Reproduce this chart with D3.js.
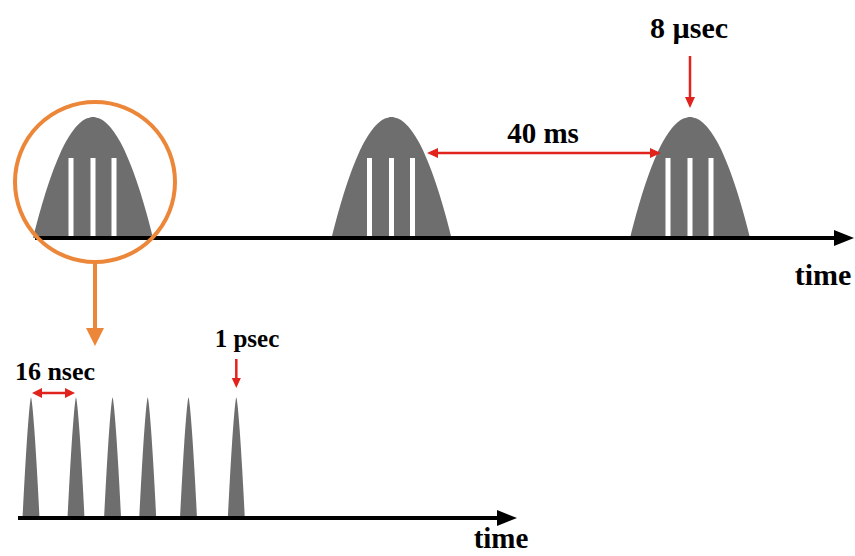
<!DOCTYPE html>
<html><head><meta charset="utf-8">
<script src="https://cdn.jsdelivr.net/npm/d3@7"></script>
<style>body{margin:0;background:#fff}svg{display:block}</style>
</head><body>
<script>
// ---- data ----
const burstTimesMs = [0, 40, 80];                  // burst centres (ms)
const burstSubLines = [-22, 0, 21];                 // white sub-pulse offsets inside a burst
const subPulseTimesNs = [0, 16, 29, 41.5, 56, 73];  // pulses inside one burst (ns)
const labels = {period: "40 ms", burst: "8 µsec", spacing: "16 nsec", width: "1 psec", axis: "time"};

const W = 855, H = 556;
const GRAY = "#6e6e6e", RED = "#e0231c", ORANGE = "#ec873a";
const svg = d3.select("body").append("svg").attr("width", W).attr("height", H);

// arrow helper: line from (x1,y1) to (x2,y2) with filled triangular head(s)
function arrow(x1, y1, x2, y2, color, sw, hl, hw, both) {
  const a = Math.atan2(y2 - y1, x2 - x1);
  const ux = Math.cos(a), uy = Math.sin(a);
  const sx = both ? x1 + ux*hl*0.8 : x1, sy = both ? y1 + uy*hl*0.8 : y1;
  svg.append("line").attr("x1", sx).attr("y1", sy)
    .attr("x2", x2 - ux*hl*0.8).attr("y2", y2 - uy*hl*0.8)
    .attr("stroke", color).attr("stroke-width", sw);
  const head = (tx, ty, dx, dy) => {
    const bx = tx - dx*hl, by = ty - dy*hl;
    svg.append("path").attr("d",
      `M${tx},${ty}L${bx - dy*hw/2},${by + dx*hw/2}L${bx + dy*hw/2},${by - dx*hw/2}Z`)
      .attr("fill", color);
  };
  head(x2, y2, ux, uy);
  if (both) head(x1, y1, -ux, -uy);
}

// ---- top scales ----
const xTop = d3.scaleLinear().domain([0, 80]).range([93, 690]);
const yTop = d3.scaleLinear().domain([0, 1]).range([238, 117]);
const burstHalf = 60;
const shapeU = d3.range(-1, 1.0001, 0.05);
const areaTop = d3.area().x(d => d.x).y0(yTop(0)).y1(d => yTop(d.v)).curve(d3.curveBasis);

burstTimesMs.forEach(t => {
  const cx = xTop(t);
  svg.append("path").datum(shapeU.map(u => ({x: cx + u*burstHalf, v: 1 - u*u})))
    .attr("d", areaTop).attr("fill", GRAY);
  svg.selectAll(null).data(burstSubLines).enter().append("rect")
    .attr("x", d => cx + d - 2.5).attr("width", 5)
    .attr("y", 158).attr("height", yTop(0) - 158).attr("fill", "#fff");
});

// top axis
arrow(35, yTop(0), 854, yTop(0), "#000", 4, 20, 16, false);

// 40 ms arrow
arrow(427, 153, 661, 153, RED, 2.5, 11, 10, true);

// 8 µsec arrow
arrow(xTop(80), 56, xTop(80), 108, RED, 2.5, 11, 10, false);

// orange circle and arrow
svg.append("circle").attr("cx", 95).attr("cy", 182).attr("r", 80)
  .attr("fill", "none").attr("stroke", ORANGE).attr("stroke-width", 4);
arrow(95, 262, 95, 346, ORANGE, 4, 18, 18, false);

// ---- bottom ----
const xBot = d3.scaleLinear().domain([0, 16]).range([31, 76]);
const yBot = d3.scaleLinear().domain([0, 1]).range([518, 397]);
const pulseHalf = 8.5;
const areaBot = d3.area().x(d => d.x).y0(yBot(0)).y1(d => yBot(d.v)).curve(d3.curveBasis);
subPulseTimesNs.forEach(t => {
  const cx = xBot(t);
  svg.append("path").datum(shapeU.map(u => ({x: cx + u*pulseHalf, v: 1 - Math.pow(Math.abs(u), 1.4)})))
    .attr("d", areaBot).attr("fill", GRAY);
});
arrow(18, yBot(0), 517, yBot(0), "#000", 4, 20, 16, false);

// 16 nsec arrow
arrow(32, 393, 75, 393, RED, 2.5, 10, 10, true);
// 1 psec arrow
const lastX = xBot(subPulseTimesNs[subPulseTimesNs.length-1]);
arrow(lastX, 359, lastX, 388, RED, 2.5, 10, 9, false);

// ---- text ----
function label(txt, x, y, size) {
  svg.append("text").attr("x", x).attr("y", y)
    .attr("text-anchor", "middle")
    .attr("font-family", "'Liberation Serif', 'Times New Roman', serif")
    .attr("font-weight", "bold").attr("font-size", size).attr("fill", "#000").text(txt);
}
label(labels.burst, 689, 38, 30);
label(labels.period, 543, 143, 29);
label(labels.axis, 823, 285, 30);
label(labels.spacing, 55, 380, 26);
label(labels.width, 247, 347, 25);
label(labels.axis, 501, 548, 29);
</script>
</body></html>
